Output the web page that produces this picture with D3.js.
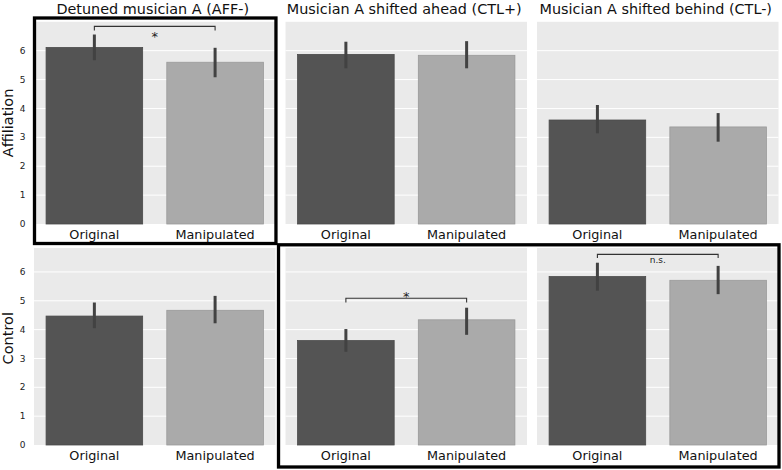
<!DOCTYPE html>
<html>
<head>
<meta charset="utf-8">
<script src="https://cdn.jsdelivr.net/npm/d3@7"></script>
<style>
  body { margin: 0; background: #fff; }
  text { font-family: "DejaVu Sans", sans-serif; }
</style>
</head>
<body>
<div id="chart"></div>
<script>
// data
var rowNames = ["Affiliation", "Control"];
var titles = ["Detuned musician A (AFF-)", "Musician A shifted ahead (CTL+)", "Musician A shifted behind (CTL-)"];
var conditions = ["Original", "Manipulated"];
var yTicks = [0, 1, 2, 3, 4, 5, 6];

// means[row][col] = [original, manipulated]
var means = [
  [[6.11, 5.60], [5.87, 5.84], [3.60, 3.36]],
  [[4.47, 4.67], [3.62, 4.34], [5.84, 5.71]]
];
var errLow = [
  [[5.67, 5.08], [5.39, 5.39], [3.14, 2.85]],
  [[4.05, 4.22], [3.23, 3.82], [5.35, 5.23]]
];
var errHigh = [
  [[6.56, 6.10], [6.31, 6.33], [4.12, 3.84]],
  [[4.94, 5.17], [4.02, 4.76], [6.32, 6.21]]
];
var yMax = [7.0, 6.83];

// significance brackets
var brackets = [
  { row: 0, col: 0, y: 6.84, drop: 0.14, label: "*", labelY: 6.63, size: 13 },
  { row: 1, col: 1, y: 5.09, drop: 0.15, label: "*", labelY: 5.27, size: 13 },
  { row: 1, col: 2, y: 6.61, drop: 0.13, label: "n.s.", labelY: 6.42, size: 9 }
];

var width = 782, height = 470;
var svg = d3.select("#chart").append("svg")
  .attr("width", width)
  .attr("height", height);

var colScale = d3.scaleBand()
  .domain([0, 1, 2])
  .range([34, 778.5])
  .paddingInner(0.04);
var W = colScale.bandwidth();

var rowZero = [224, 445];
var rowTop = [21.8, 248];

var xScale = d3.scaleBand()
  .domain(conditions)
  .range([0, W])
  .paddingInner(0.2)
  .paddingOuter(0.1);

var barColors = { "Original": "#545454", "Manipulated": "#aaaaaa" };
var barEdges = { "Original": "#4a4a4a", "Manipulated": "#999999" };

var yScales = rowNames.map(function (r, i) {
  return d3.scaleLinear().domain([0, yMax[i]]).range([rowZero[i], rowTop[i]]);
});

rowNames.forEach(function (rowName, r) {
  var y = yScales[r];
  titles.forEach(function (title, c) {
    var g = svg.append("g")
      .attr("transform", "translate(" + colScale(c) + ",0)");

    g.append("rect")
      .attr("x", 0)
      .attr("y", y(yMax[r]))
      .attr("width", W)
      .attr("height", y(0) - y(yMax[r]))
      .attr("fill", "#eaeaea");

    // grid
    g.selectAll(".grid")
      .data(yTicks.filter(function (t) { return t > 0; }))
      .enter().append("line")
      .attr("x1", 0).attr("x2", W)
      .attr("y1", function (d) { return y(d); })
      .attr("y2", function (d) { return y(d); })
      .attr("stroke", "#fff")
      .attr("stroke-width", 1);

    var vals = conditions.map(function (k, i) {
      return { cond: k, mean: means[r][c][i], lo: errLow[r][c][i], hi: errHigh[r][c][i] };
    });

    g.selectAll(".bar")
      .data(vals)
      .enter().append("rect")
      .attr("x", function (d) { return xScale(d.cond); })
      .attr("y", function (d) { return y(d.mean); })
      .attr("width", xScale.bandwidth())
      .attr("height", function (d) { return y(0) - y(d.mean); })
      .attr("fill", function (d) { return barColors[d.cond]; })
      .attr("stroke", function (d) { return barEdges[d.cond]; })
      .attr("stroke-width", 0.8);

    g.selectAll(".err")
      .data(vals)
      .enter().append("line")
      .attr("x1", function (d) { return xScale(d.cond) + xScale.bandwidth() / 2; })
      .attr("x2", function (d) { return xScale(d.cond) + xScale.bandwidth() / 2; })
      .attr("y1", function (d) { return y(d.lo); })
      .attr("y2", function (d) { return y(d.hi); })
      .attr("stroke", "#424242")
      .attr("stroke-width", 3);

    // x tick labels
    g.selectAll(".xlab")
      .data(conditions)
      .enter().append("text")
      .attr("x", function (d) { return xScale(d) + xScale.bandwidth() / 2; })
      .attr("y", y(0) + 14.6)
      .attr("text-anchor", "middle")
      .attr("font-size", "12.8px")
      .attr("fill", "#111")
      .text(function (d) { return d; });

    if (r === 0) {
      svg.append("text")
        .attr("x", colScale(c) + W / 2 - 2)
        .attr("y", 13.8)
        .attr("text-anchor", "middle")
        .attr("font-size", "14.4px")
        .attr("fill", "#111")
        .text(title);
    }
  });

  // y tick labels, first column only
  svg.selectAll(".ytick" + r)
    .data(yTicks)
    .enter().append("text")
    .attr("x", colScale(0) - 8.5)
    .attr("y", function (d) { return y(d); })
    .attr("dy", "0.35em")
    .attr("text-anchor", "end")
    .attr("font-size", "9px")
    .attr("fill", "#222")
    .text(function (d) { return d; });

  var labelMid = [3.5, 3.7];
  svg.append("text")
    .attr("transform", "translate(12.5," + y(labelMid[r]) + ") rotate(-90)")
    .attr("text-anchor", "middle")
    .attr("font-size", "14.5px")
    .attr("fill", "#111")
    .text(rowName);
});

// brackets
brackets.forEach(function (b) {
  var y = yScales[b.row];
  var x0 = colScale(b.col) + xScale(conditions[0]) + xScale.bandwidth() / 2;
  var x1 = colScale(b.col) + xScale(conditions[1]) + xScale.bandwidth() / 2;
  var path = d3.path();
  path.moveTo(x0, y(b.y - b.drop));
  path.lineTo(x0, y(b.y));
  path.lineTo(x1, y(b.y));
  path.lineTo(x1, y(b.y - b.drop));
  svg.append("path")
    .attr("d", path.toString())
    .attr("fill", "none")
    .attr("stroke", "#333")
    .attr("stroke-width", 1.1);
  svg.append("text")
    .attr("x", (x0 + x1) / 2)
    .attr("y", y(b.labelY))
    .attr("dy", b.label === "*" ? "0.62em" : "0.35em")
    .attr("text-anchor", "middle")
    .attr("font-size", b.size + "px")
    .attr("fill", "#222")
    .text(b.label);
});

// highlight boxes
var boxes = [
  { x0: colScale(0) + 0.5, x1: colScale(0) + W + 0.5, y0: 18, y1: 243.5 },
  { x0: colScale(1) - 7, x1: colScale(2) + W + 0.5, y0: 244.8, y1: 467 }
];
svg.selectAll(".box")
  .data(boxes)
  .enter().append("rect")
  .attr("x", function (d) { return d.x0; })
  .attr("y", function (d) { return d.y0; })
  .attr("width", function (d) { return d.x1 - d.x0; })
  .attr("height", function (d) { return d.y1 - d.y0; })
  .attr("fill", "none")
  .attr("stroke", "#000")
  .attr("stroke-width", 3.3);
</script>
</body>
</html>
